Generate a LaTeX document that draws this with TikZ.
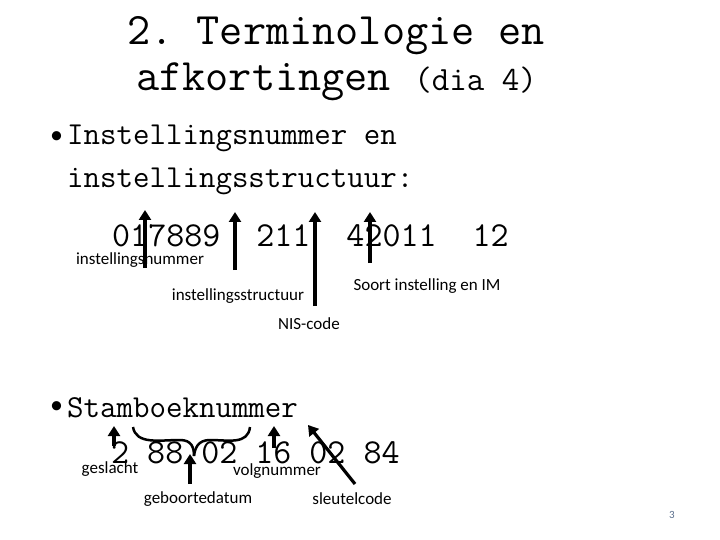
\documentclass[tikz,border=0pt]{standalone}
\usepackage{fontspec}
\usetikzlibrary{arrows.meta}
\setmainfont{Carlito}
\frenchspacing
\begin{document}
\begin{tikzpicture}[x=1pt,y=-1pt,
  lab/.style={font=\fontsize{17}{19}\selectfont},
  big/.style={font=\ttfamily\fontsize{35}{38}\selectfont,inner sep=0},
  arr/.style={line width=3.2pt,-{Triangle[length=10pt,width=12pt]}}]
\useasboundingbox (0,0) rectangle (720,540);
\node[anchor=west,inner sep=0,font=\ttfamily\fontsize{45}{50}\selectfont] (t1) at (127,36) {2. Terminologie en};
\node[anchor=west,inner sep=0,font=\ttfamily\fontsize{45}{50}\selectfont] (t2) at (136,82) {afkortingen \fontsize{34}{38}\selectfont(dia 4)};
\node[anchor=west,inner sep=0,font=\fontsize{26}{30}\selectfont] (b1) at (50,138) {•};
\node[anchor=west,inner sep=0,font=\ttfamily\fontsize{32}{36}\selectfont] (l1) at (67,138) {Instellingsnummer en};
\node[anchor=west,inner sep=0,font=\ttfamily\fontsize{32}{36}\selectfont] (l2) at (67,181) {instellingsstructuur:};
\node[big,anchor=west] (num) at (112,236) {017889\ \ 211\ \ 42011\ \ 12};
\coordinate (s1) at (145,268); \coordinate (e1) at (145,210);
\coordinate (s2) at (235,270); \coordinate (e2) at (235,212);
\coordinate (s3) at (315,306); \coordinate (e3) at (315,212);
\coordinate (s4) at (370,263); \coordinate (e4) at (370,212);
\draw[arr] (s1) -- (e1);
\draw[arr] (s2) -- (e2);
\draw[arr] (s3) -- (e3);
\draw[arr] (s4) -- (e4);
\node[lab] (n1) at (140,260) {instellingsnummer};
\node[lab] (n2) at (238,296) {instellingsstructuur};
\node[lab] (n3) at (309,324) {NIS-code};
\node[lab] (n4) at (427,286) {Soort instelling en IM};
\node[anchor=west,inner sep=0,font=\fontsize{26}{30}\selectfont] (b2) at (50,408) {•};
\node[anchor=west,inner sep=0,font=\ttfamily\fontsize{32}{36}\selectfont] (l3) at (67,408) {Stamboeknummer};
\node[big,anchor=west] (sb) at (111,453) {2 88 02 16 02 84};
\draw[line width=2.5pt] (133,427) .. controls (136,445) and (160,440) .. (180,440) .. controls (192,440) and (194,448) .. (194,456);
\draw[line width=2.5pt] (250,427) .. controls (248,445) and (228,440) .. (210,440) .. controls (198,440) and (195,448) .. (194,456);
\coordinate (g1) at (114,446); \coordinate (g2) at (114,426);
\coordinate (d1) at (190,484); \coordinate (d2) at (190,454);
\coordinate (v1) at (274,448); \coordinate (v2) at (274,426);
\coordinate (k1) at (355,484); \coordinate (k2) at (308,425);
\draw[arr] (g1) -- (g2);
\draw[arr] (d1) -- (d2);
\draw[arr] (v1) -- (v2);
\draw[arr] (k1) -- (k2);
\node[lab] (m1) at (110,469) {geslacht};
\node[lab] (m2) at (198,499) {geboortedatum};
\node[lab] (m3) at (277,471) {volgnummer};
\node[lab] (m4) at (352,499) {sleutelcode};
\node[font=\fontsize{11}{13}\selectfont,text={rgb,255:red,90;green,110;blue,140}] (pg) at (672,515) {3};
\end{tikzpicture}
\end{document}
